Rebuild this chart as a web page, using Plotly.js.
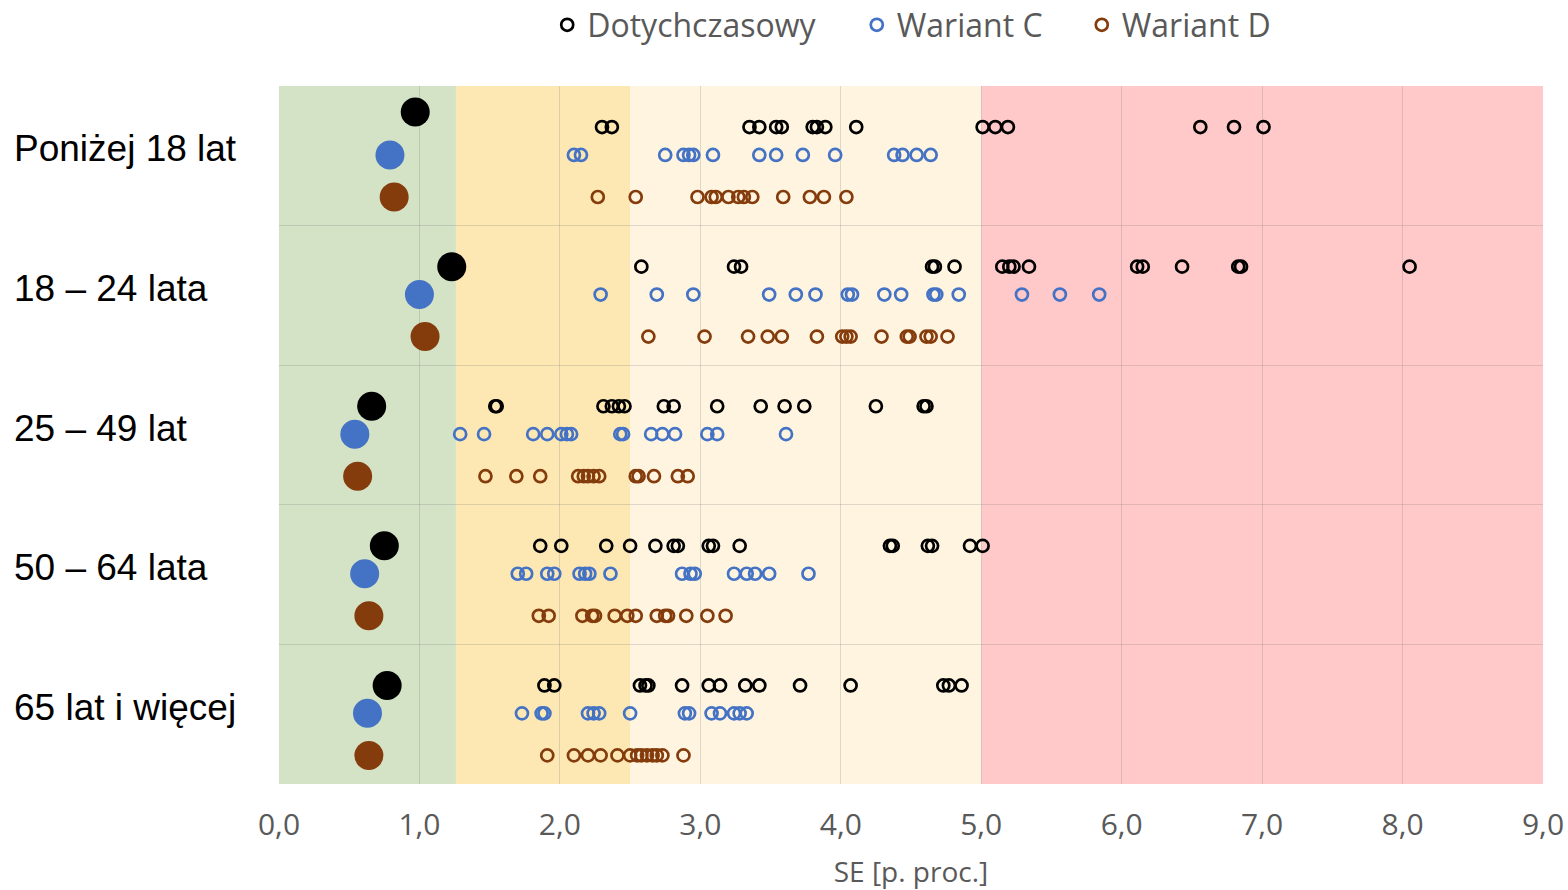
<!DOCTYPE html>
<html><head><meta charset="utf-8">
<script src="https://cdn.plot.ly/plotly-3.0.1.min.js"></script>
<style>html,body{margin:0;padding:0;background:#fff}</style>
</head><body>
<div id="chart" style="width:1568px;height:890px"></div>
<script>
const categories = ["Poniżej 18 lat", "18 – 24 lata", "25 – 49 lat", "50 – 64 lata", "65 lat i więcej"];
const seriesNames = ["Dotychczasowy", "Wariant C", "Wariant D"];

const dotychczasowy = [
  [2.30, 2.37, 3.35, 3.42, 3.54, 3.58, 3.80, 3.83, 3.89, 4.11, 5.01, 5.10, 5.19, 6.56, 6.80, 7.01],
  [2.58, 3.24, 3.29, 4.65, 4.67, 4.81, 5.15, 5.20, 5.23, 5.34, 6.11, 6.15, 6.43, 6.83, 6.85, 8.05],
  [1.54, 1.55, 2.31, 2.37, 2.42, 2.46, 2.74, 2.81, 3.12, 3.43, 3.60, 3.74, 4.25, 4.59, 4.61],
  [1.86, 2.01, 2.33, 2.50, 2.68, 2.81, 2.84, 3.06, 3.09, 3.28, 4.35, 4.37, 4.62, 4.65, 4.92, 5.01],
  [1.89, 1.96, 2.57, 2.61, 2.63, 2.87, 3.06, 3.14, 3.32, 3.42, 3.71, 4.07, 4.73, 4.77, 4.86]
];
const wariantC = [
  [2.10, 2.15, 2.75, 2.88, 2.92, 2.95, 3.09, 3.42, 3.54, 3.73, 3.96, 4.38, 4.44, 4.54, 4.64],
  [2.29, 2.69, 2.95, 3.49, 3.68, 3.82, 4.05, 4.08, 4.31, 4.43, 4.66, 4.68, 4.84, 5.29, 5.56, 5.84],
  [1.29, 1.46, 1.81, 1.91, 2.01, 2.05, 2.08, 2.43, 2.45, 2.65, 2.73, 2.82, 3.05, 3.12, 3.61],
  [1.70, 1.76, 1.91, 1.96, 2.14, 2.18, 2.21, 2.36, 2.87, 2.93, 2.96, 3.24, 3.33, 3.39, 3.49, 3.77],
  [1.73, 1.87, 1.89, 2.20, 2.24, 2.28, 2.50, 2.89, 2.92, 3.08, 3.14, 3.24, 3.28, 3.33]
];
const wariantD = [
  [2.27, 2.54, 2.98, 3.08, 3.11, 3.20, 3.27, 3.31, 3.37, 3.59, 3.78, 3.88, 4.04],
  [2.63, 3.03, 3.34, 3.48, 3.58, 3.83, 4.01, 4.04, 4.07, 4.29, 4.47, 4.49, 4.61, 4.64, 4.76],
  [1.47, 1.69, 1.86, 2.13, 2.17, 2.20, 2.24, 2.28, 2.54, 2.56, 2.67, 2.84, 2.91],
  [1.85, 1.92, 2.16, 2.23, 2.25, 2.39, 2.48, 2.54, 2.69, 2.75, 2.77, 2.90, 3.05, 3.18],
  [1.91, 2.10, 2.20, 2.29, 2.41, 2.50, 2.55, 2.58, 2.62, 2.66, 2.69, 2.73, 2.88]
];

const summaryDotychczasowy = [0.97, 1.23, 0.66, 0.75, 0.77];
const summaryWariantC = [0.79, 1.00, 0.54, 0.61, 0.63];
const summaryWariantD = [0.82, 1.04, 0.56, 0.64, 0.64];

const zoneEdges = [0, 1.26, 2.5, 5, 9];
const xTickValues = [0, 1, 2, 3, 4, 5, 6, 7, 8, 9];

// ---- styling / layout ----
const colors = ["#000000", "#4472C4", "#843C0C"];
const zoneColors = ["#D4E3C6", "#FDE8B4", "#FEF4DF", "#FFC9C9"];
const rowOffset = [0.294, 0.494, 0.795];
const bigRowOffset = [[0.186, 0.294, 0.294, 0.294, 0.294], [0.494,0.494,0.494,0.494,0.494], [0.795,0.795,0.795,0.795,0.795]];
const legendIds = ["legend", "legend2", "legend3"];
const legendX = [0.2122, 0.4571, 0.6351];

const smallSets = [dotychczasowy, wariantC, wariantD];
const bigSets = [summaryDotychczasowy, summaryWariantC, summaryWariantD];

const traces = [];
bigSets.forEach((vals, s) => {
  traces.push({
    type: "scatter", mode: "markers", showlegend: false, hoverinfo: "x",
    x: vals, y: vals.map((v, i) => i + bigRowOffset[s][i]),
    marker: { symbol: "circle", size: 29, color: colors[s], line: { width: 0 } },
    cliponaxis: false
  });
});
smallSets.forEach((groups, s) => {
  const x = [], y = [];
  groups.forEach((vals, i) => vals.forEach(v => { x.push(v); y.push(i + rowOffset[s]); }));
  traces.push({
    type: "scatter", mode: "markers", name: seriesNames[s], x: x, y: y, hoverinfo: "x",
    legend: legendIds[s],
    marker: { symbol: "circle-open", size: 12, color: colors[s], line: { width: 2.7, color: colors[s] } },
    cliponaxis: false
  });
});

const shapes = [];
for (let k = 0; k < zoneEdges.length - 1; k++) {
  shapes.push({
    type: "rect", layer: "below", xref: "x", yref: "paper",
    x0: zoneEdges[k], x1: zoneEdges[k + 1], y0: 0, y1: 1,
    fillcolor: zoneColors[k], line: { width: 0 }
  });
}

const annotations = categories.map((c, i) => ({
  xref: "paper", yref: "y", x: -0.2113, y: i + 0.45, xanchor: "left", yanchor: "middle",
  text: c, showarrow: false,
  font: { family: "Liberation Sans, Arial, sans-serif", size: 37, color: "#000000" }
}));

function legendSpec(k) {
  return {
    orientation: "h", x: legendX[k], xanchor: "left", y: 1.0874, yanchor: "middle",
    font: { size: 32, color: "#595959" }, bgcolor: "rgba(0,0,0,0)"
  };
}

const layout = {
  width: 1568, height: 890,
  margin: { l: 279, r: 25, t: 86, b: 106, autoexpand: false },
  paper_bgcolor: "#ffffff", plot_bgcolor: "#ffffff",
  separators: ", ",
  font: { family: "Open Sans, Noto Sans, sans-serif", color: "#595959" },
  xaxis: {
    range: [0, 9], tickmode: "array", tickvals: xTickValues, tickformat: ".1f",
    showgrid: true, gridcolor: "rgba(110,110,110,0.22)", gridwidth: 1,
    zeroline: false, showline: false, ticks: "",
    tickfont: { size: 30, color: "#595959" }, ticklabelstandoff: 20,
    title: { text: "SE [p. proc.]", font: { size: 28, color: "#595959" }, standoff: 21 }
  },
  yaxis: {
    range: [5, 0], tickmode: "array", tickvals: [1, 2, 3, 4],
    showticklabels: false, showgrid: true, gridcolor: "rgba(110,110,110,0.22)", gridwidth: 1,
    zeroline: false, showline: false, ticks: ""
  },
  shapes: shapes,
  annotations: annotations,
  legend: legendSpec(0),
  legend2: legendSpec(1),
  legend3: legendSpec(2),
  showlegend: true
};

Plotly.newPlot("chart", traces, layout, { displayModeBar: false, staticPlot: true });
</script>
</body></html>
